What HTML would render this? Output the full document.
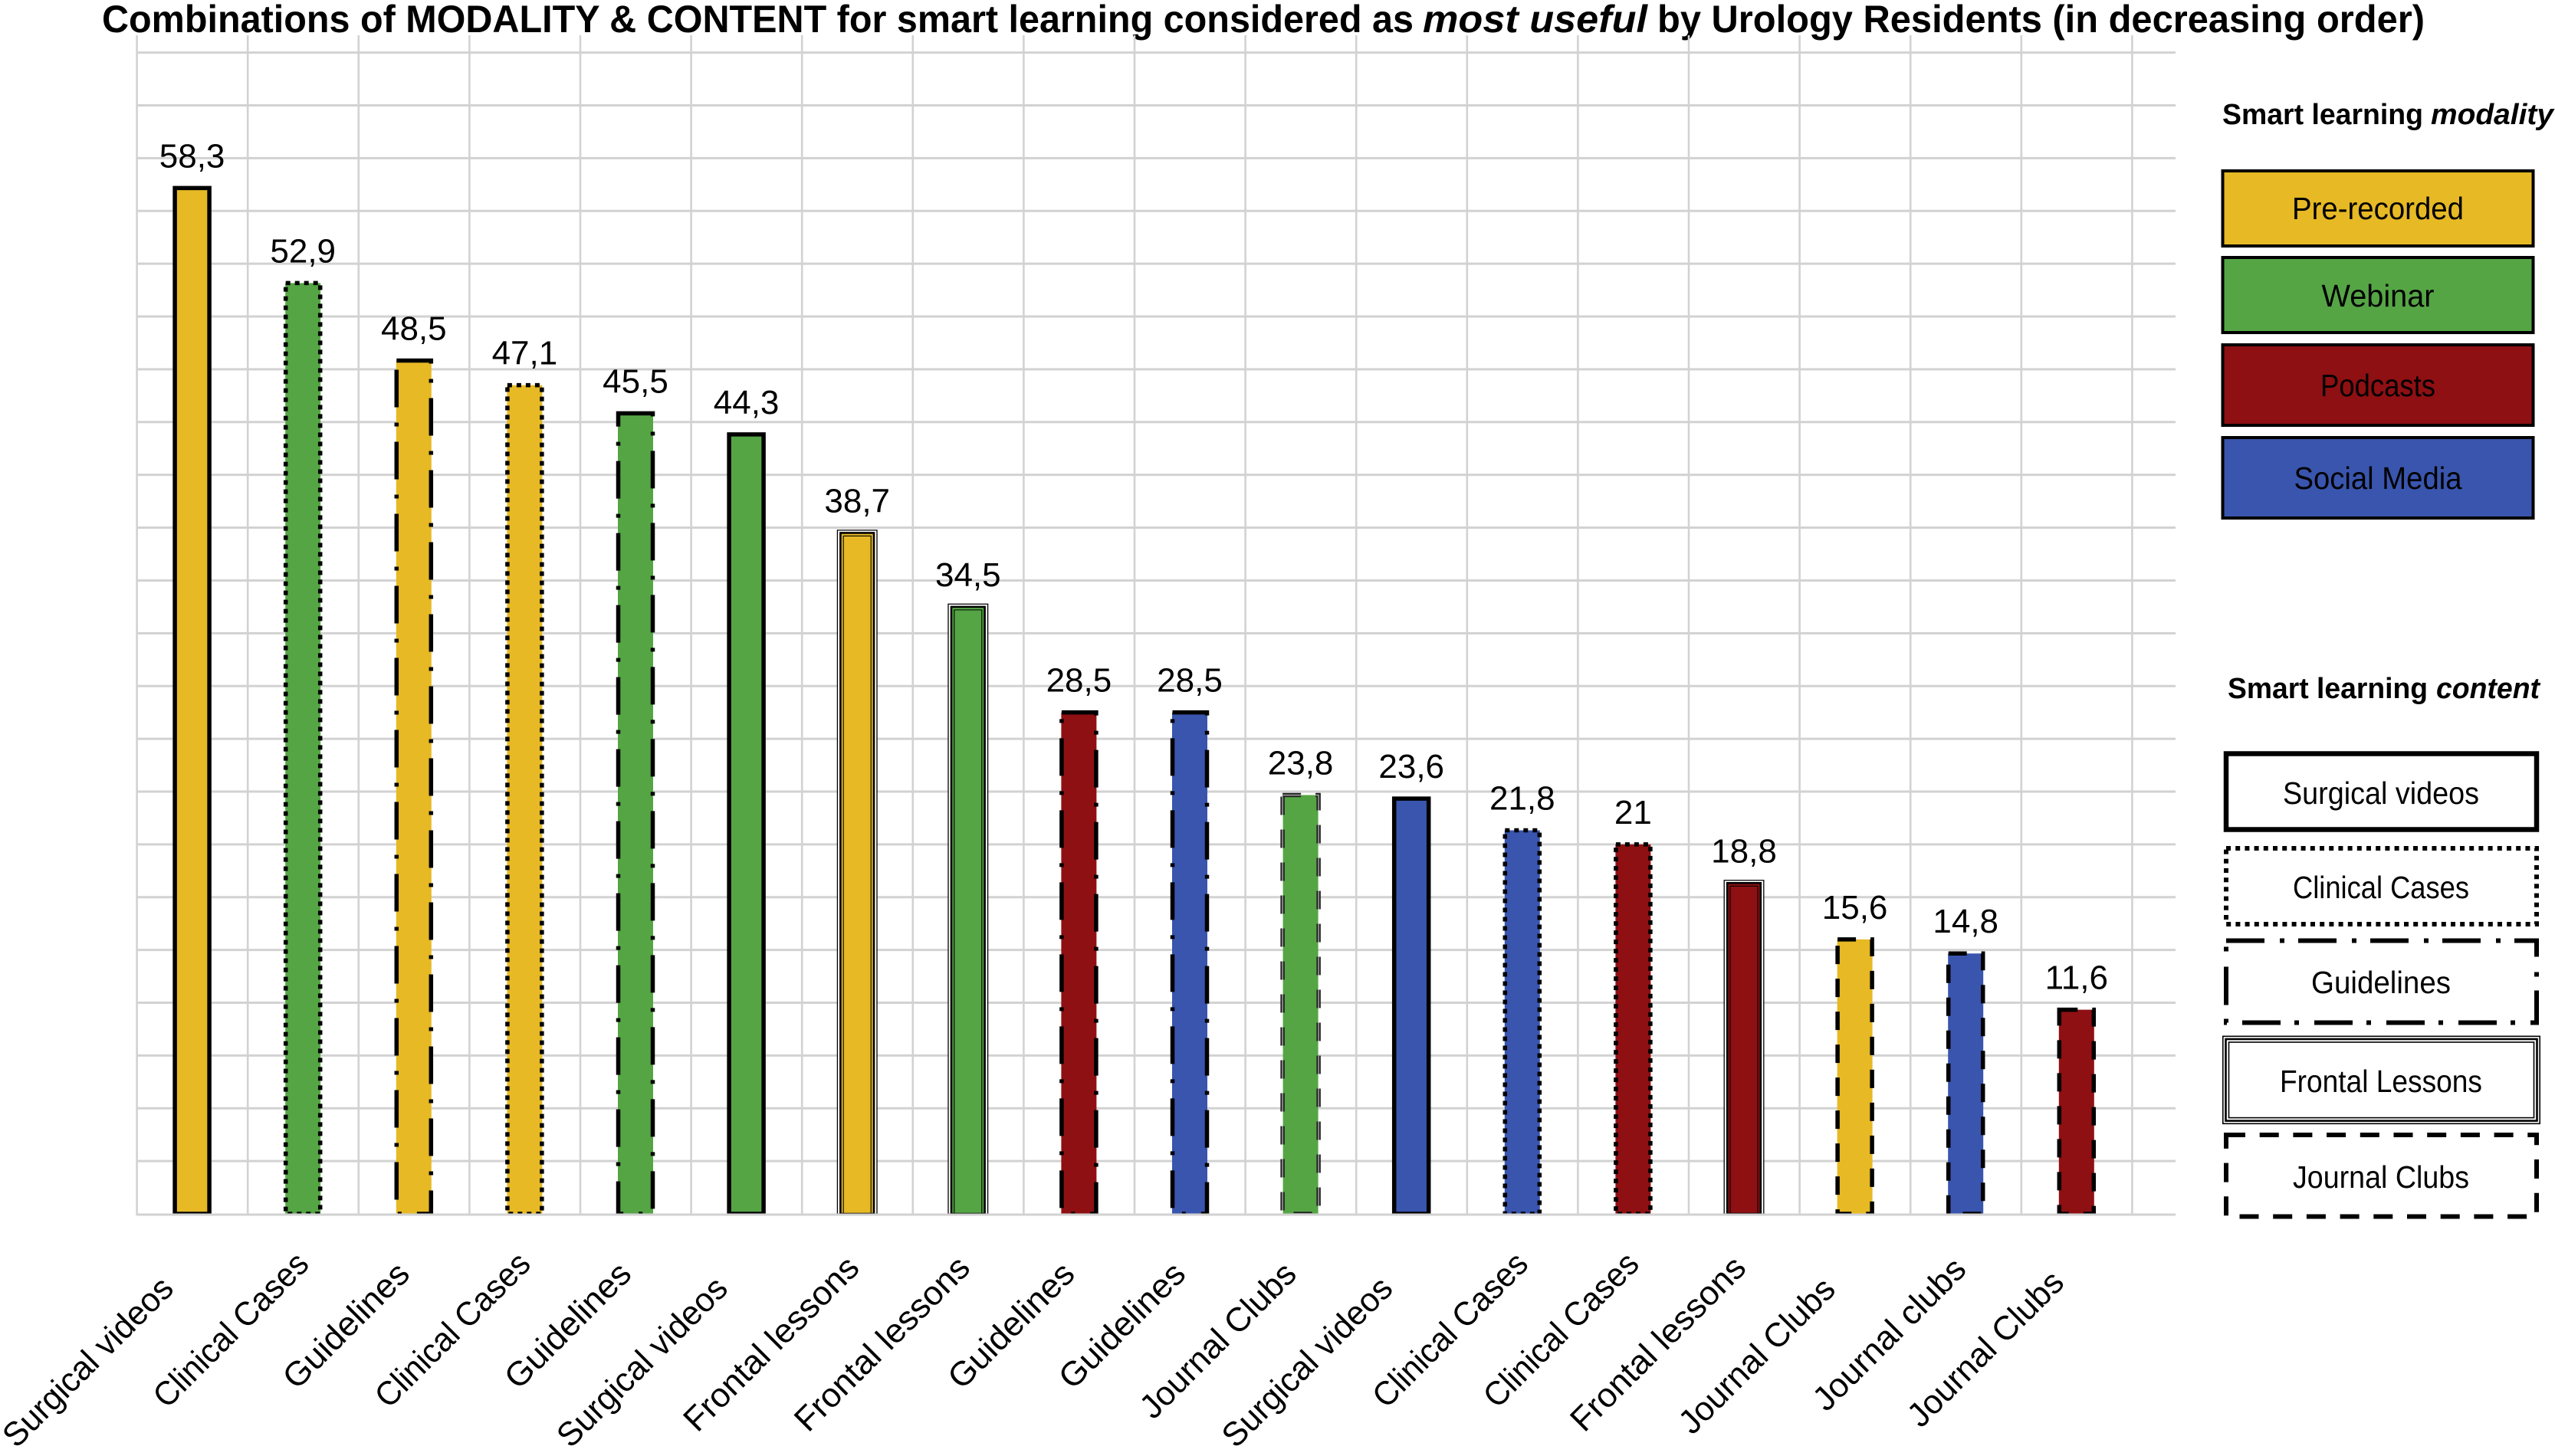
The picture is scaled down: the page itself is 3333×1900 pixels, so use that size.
<!DOCTYPE html>
<html lang="en">
<head>
<meta charset="utf-8">
<title>Combinations of modality and content for smart learning</title>
<style>
html,body{margin:0;padding:0;background:#fff;}
svg{display:block;}
text{font-family:"Liberation Sans",sans-serif;fill:#000;}
</style>
</head>
<body>
<svg id="chart" xmlns="http://www.w3.org/2000/svg" width="3333" height="1900" viewBox="0 0 3333 1900">
  <rect x="0" y="0" width="3333" height="1900" fill="#fff"/>
  <defs>
    <clipPath id="plot-clip"><rect x="170" y="0" width="2680" height="1583.5"/></clipPath>
  </defs>

  <g font-size="50" font-weight="700">
    <text x="133" y="42" textLength="1711" lengthAdjust="spacingAndGlyphs">Combinations of MODALITY &amp; CONTENT for smart learning considered as</text>
    <text x="1856" y="42" font-style="italic" textLength="293" lengthAdjust="spacingAndGlyphs">most useful</text>
    <text x="2162" y="42" textLength="1001" lengthAdjust="spacingAndGlyphs">by Urology Residents (in decreasing order)</text>
  </g>

  <g id="grid"></g>
  <g id="bars" clip-path="url(#plot-clip)"></g>
  <g id="value-labels"></g>
  <g id="category-labels"></g>

  <g>
    <text x="2899" y="162" font-size="38" font-weight="700" textLength="262" lengthAdjust="spacingAndGlyphs">Smart learning</text>
    <text x="3171" y="162" font-size="38" font-weight="700" font-style="italic" textLength="160" lengthAdjust="spacingAndGlyphs">modality</text>

    <g>
      <rect x="2899.5" y="223" width="405" height="98" fill="#E6B925" stroke="#000" stroke-width="4"/>
      <text x="3102" y="286" font-size="41" text-anchor="middle" textLength="224" lengthAdjust="spacingAndGlyphs">Pre-recorded</text>
    </g>
    <g>
      <rect x="2899.5" y="336" width="405" height="98" fill="#55A545" stroke="#000" stroke-width="4"/>
      <text x="3102" y="400" font-size="41" text-anchor="middle" textLength="147" lengthAdjust="spacingAndGlyphs">Webinar</text>
    </g>
    <g>
      <rect x="2899.5" y="450" width="405" height="105" fill="#8E1013" stroke="#000" stroke-width="4"/>
      <text x="3102" y="517" font-size="41" text-anchor="middle" textLength="150" lengthAdjust="spacingAndGlyphs">Podcasts</text>
    </g>
    <g>
      <rect x="2899.5" y="571" width="405" height="105" fill="#3955AD" stroke="#000" stroke-width="4"/>
      <text x="3102" y="638" font-size="41" text-anchor="middle" textLength="219" lengthAdjust="spacingAndGlyphs">Social Media</text>
    </g>
  </g>

  <g fill="none">
    <text x="2906" y="911" font-size="38" font-weight="700" textLength="261" lengthAdjust="spacingAndGlyphs">Smart learning</text>
    <text x="3178" y="911" font-size="38" font-weight="700" font-style="italic" textLength="135" lengthAdjust="spacingAndGlyphs">content</text>

    <g>
      <rect x="2904" y="983.5" width="405" height="99" fill="none" stroke="#000" stroke-width="6.5"/>
      <text x="3106" y="1049" font-size="41" text-anchor="middle" textLength="256" lengthAdjust="spacingAndGlyphs">Surgical videos</text>
    </g>
    <g>
      <path d="M2904 1107H3309V1206H2904Z" fill="none" stroke="#000" stroke-width="6" stroke-dasharray="6 6.2"/>
      <text x="3106" y="1172" font-size="41" text-anchor="middle" textLength="230" lengthAdjust="spacingAndGlyphs">Clinical Cases</text>
    </g>
    <g>
      <path d="M2904 1227.5H3309V1334.5H2904Z" fill="none" stroke="#000" stroke-width="6" stroke-dasharray="50 20 6 18"/>
      <text x="3106" y="1296" font-size="41" text-anchor="middle" textLength="182" lengthAdjust="spacingAndGlyphs">Guidelines</text>
    </g>
    <g>
      <rect x="2899.8" y="1352.3" width="413.4" height="114" fill="none" stroke="#000" stroke-width="1.6"/>
      <rect x="2903.5" y="1356" width="406" height="106.6" fill="none" stroke="#000" stroke-width="2.6"/>
      <rect x="2907.5" y="1360" width="398" height="98.6" fill="none" stroke="#000" stroke-width="1.6"/>
      <text x="3106" y="1425" font-size="41" text-anchor="middle" textLength="264" lengthAdjust="spacingAndGlyphs">Frontal Lessons</text>
    </g>
    <g>
      <path d="M2904 1481H3309V1587.5H2904Z" fill="none" stroke="#000" stroke-width="6" stroke-dasharray="25 18.7"/>
      <text x="3106" y="1550" font-size="41" text-anchor="middle" textLength="230" lengthAdjust="spacingAndGlyphs">Journal Clubs</text>
    </g>
  </g>
</svg>

<script>
// Chart data
const categories = ["Surgical videos","Clinical Cases","Guidelines","Clinical Cases","Guidelines","Surgical videos","Frontal lessons","Frontal lessons","Guidelines","Guidelines","Journal Clubs","Surgical videos","Clinical Cases","Clinical Cases","Frontal lessons","Journal Clubs","Journal clubs","Journal Clubs"];
const modalities = ["Pre-recorded","Webinar","Pre-recorded","Pre-recorded","Webinar","Webinar","Pre-recorded","Webinar","Podcasts","Social Media","Webinar","Social Media","Social Media","Podcasts","Podcasts","Pre-recorded","Social Media","Podcasts"];
const values = [58.3,52.9,48.5,47.1,45.5,44.3,38.7,34.5,28.5,28.5,23.8,23.6,21.8,21,18.8,15.6,14.8,11.6];
const gridTicks = [0,3,6,9,12,15,18,21,24,27,30,33,36,39,42,45,48,51,54,57,60,63,66];

// Styling
const modalityColors = {"Pre-recorded":"#E6B925","Webinar":"#55A545","Podcasts":"#8E1013","Social Media":"#3955AD"};
const contentStrokes = {
  "Surgical videos":{kind:"solid"},
  "Clinical Cases":{kind:"dash",dash:"6 6"},
  "Guidelines":{kind:"dash",dash:"49 20 5 20"},
  "Frontal lessons":{kind:"multi"},
  "Journal Clubs":{kind:"dash",dash:"24 19"},
  "Journal clubs":{kind:"dash",dash:"24 19"}
};
const contentLabelShift = {"Surgical videos":-22,"Clinical Cases":10,"Guidelines":-3,"Frontal lessons":5,"Journal Clubs":-14,"Journal clubs":3};
const contentLabelLength = {"Surgical videos":293,"Clinical Cases":265,"Guidelines":212,"Frontal lessons":302,"Journal Clubs":267,"Journal clubs":261};

// Axis functions
const xCenter = i => 250.6 + 144.6 * i;
const xEdge = i => 178.6 + 144.6 * i;
const yScale = v => 1584 - v * 22.96;

const NS = "http://www.w3.org/2000/svg";
function make(tag, parent, attrs, text) {
  const el = document.createElementNS(NS, tag);
  for (const key in attrs) el.setAttribute(key, attrs[key]);
  if (text !== undefined) el.textContent = text;
  parent.appendChild(el);
  return el;
}
const slug = s => s.toLowerCase().replace(/[^a-z0-9]+/g, "-");

// Grid
const gridGroup = document.getElementById("grid");
gridTicks.forEach(tick => {
  const line = make("line", gridGroup, {x1:178, x2:2838, y1:yScale(tick) + (tick === 0 ? 1 : 0), y2:yScale(tick) + (tick === 0 ? 1 : 0), stroke:"#d2d2d2", "stroke-width":3});
  
  
});
for (let i = 0; i <= categories.length; i++) {
  const line = make("line", gridGroup, {x1:xEdge(i), x2:xEdge(i), y1:46, y2:1586, stroke:"#d2d2d2", "stroke-width":2.6});
  
  
}

// Bars and labels
const barsGroup = document.getElementById("bars");
const valueGroup = document.getElementById("value-labels");
const categoryGroup = document.getElementById("category-labels");

function edgePath(cx, top, half) {
  return "M" + (cx - half) + " " + top + "H" + (cx + half) + "V" + yScale(0) + "H" + (cx - half) + "Z";
}

values.forEach((value, i) => {
  const cx = xCenter(i);
  const top = yScale(value);
  const category = categories[i];
  const modality = modalities[i];
  const stroke = contentStrokes[category];
  const color = modalityColors[modality];

  const bar = make("g", barsGroup, {});
  
  

  if (stroke.kind === "multi") {
    make("path", bar, {d:edgePath(cx, top - 3.6, 25.8), fill:"#fff", stroke:"#000", "stroke-width":1.3});
    make("path", bar, {d:edgePath(cx, top, 21.8), fill:color, stroke:"#000", "stroke-width":2.6});
    make("path", bar, {d:edgePath(cx, top + 4, 18), fill:"none", stroke:"#000", "stroke-width":1.1});
  } else {
    make("path", bar, {d:edgePath(cx, top, 23), fill:color});
    const outlineWidth = 5.5;
    const outline = {d:edgePath(cx, top, 22.5), fill:"none", stroke:"#000", "stroke-width":outlineWidth};
    if (stroke.kind === "dash") outline["stroke-dasharray"] = stroke.dash;
    if (category === "Journal Clubs" && modality === "Webinar") {
      outline.d = edgePath(cx, top, 23.5);
      outline.stroke = "#222";
      make("path", bar, outline);
      make("path", bar, {d:outline.d, fill:"none", stroke:"#aaa", "stroke-width":1.4, "stroke-dasharray":stroke.dash});
    } else {
      make("path", bar, outline);
    }
  }

  const valueLabel = make("text", valueGroup, {x:cx, y:top - 27, "font-size":44, "text-anchor":"middle"}, String(value).replace(".", ","));
  
  

  let shift = contentLabelShift[category];
  if (category === "Journal Clubs" && i === 10) shift = -3;
  if (category === "Journal Clubs" && i === 15) shift = -23;
  const endX = cx + shift;
  const endY = 1662 - shift;
  const categoryLabel = make("text", categoryGroup, {x:endX, y:endY, "font-size":44, "text-anchor":"end", textLength:contentLabelLength[category], lengthAdjust:"spacingAndGlyphs", transform:"rotate(-45 " + endX + " " + endY + ")"}, category);
  
  
});
</script>
</body>
</html>
